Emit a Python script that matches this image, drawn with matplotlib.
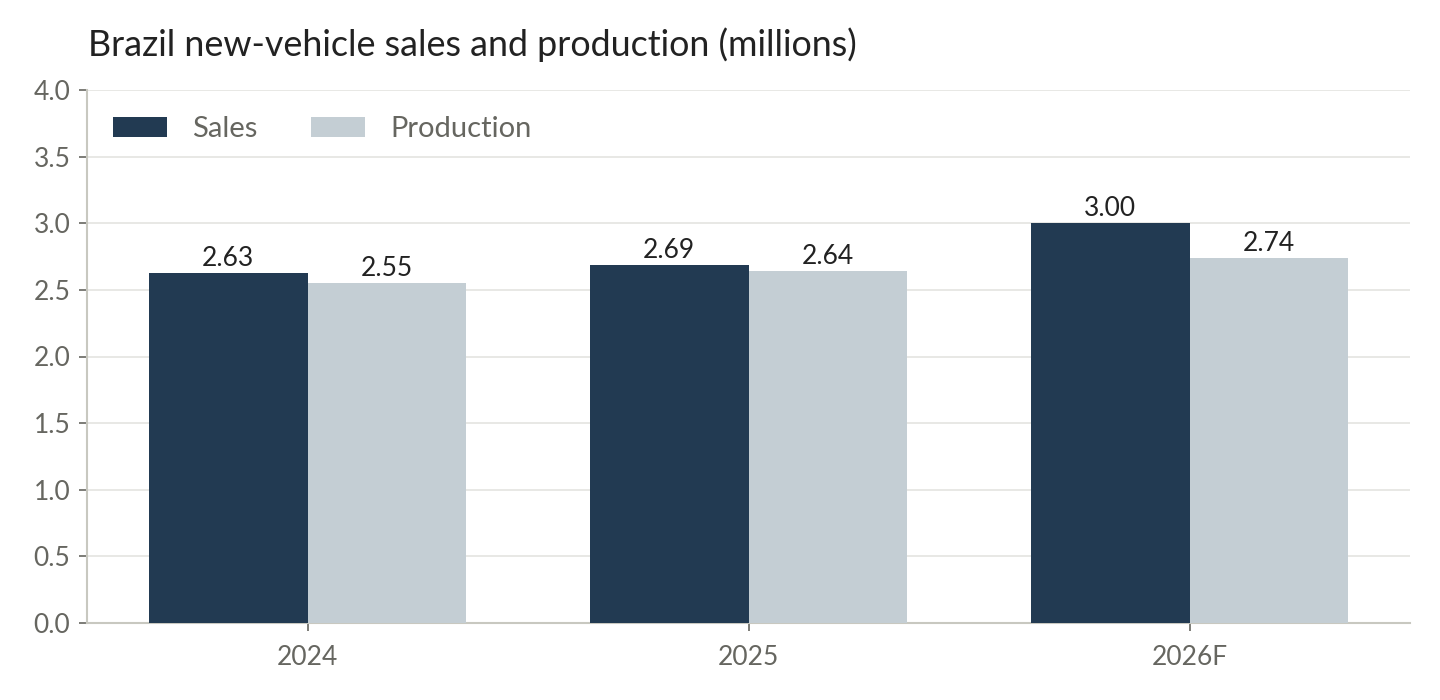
import matplotlib
matplotlib.use("Agg")
import matplotlib.pyplot as plt
import numpy as np

categories = ["2024", "2025", "2026F"]
sales = [2.63, 2.69, 3.00]
production = [2.55, 2.64, 2.74]
yticks = [0.0, 0.5, 1.0, 1.5, 2.0, 2.5, 3.0, 3.5, 4.0]

plt.rcParams['font.family'] = ['Lato', 'DejaVu Sans']

fig = plt.figure(figsize=(14.4, 7), dpi=100)
ax = fig.add_axes([87/1440, 1 - 623/700, (1410-87)/1440, (623-90)/700])

x = np.arange(len(categories))
w = 0.36
c_sales = "#223A52"
c_prod = "#C4CED4"
b1 = ax.bar(x - w/2, sales, w, color=c_sales, label="Sales", zorder=3)
b2 = ax.bar(x + w/2, production, w, color=c_prod, label="Production", zorder=3)

for bars, vals in ((b1, sales), (b2, production)):
    for r, v in zip(bars, vals):
        ax.text(r.get_x() + r.get_width()/2, v + 0.015, f"{v:.2f}", ha="center", va="bottom",
                fontsize=19, color="#222222", zorder=4)

ax.set_xlim(-0.5, 2.5)
ax.set_ylim(0, 4.0)
ax.set_yticks(yticks)
ax.set_yticklabels([f"{t:.1f}" for t in yticks])
ax.set_xticks(x)
ax.set_xticklabels(categories)
ax.yaxis.grid(True, color="#E4E4E0", linewidth=1.2, zorder=0)
ax.set_axisbelow(True)
for s in ("top", "right"):
    ax.spines[s].set_visible(False)
for s in ("left", "bottom"):
    ax.spines[s].set_color("#C8C8C0")
    ax.spines[s].set_linewidth(1.5)
ax.tick_params(axis="both", colors="#666660", labelsize=19, length=6, width=1.2)
ax.tick_params(axis="x", pad=10)
ax.tick_params(axis="y", pad=6)

leg = ax.legend(loc="upper left", ncol=2, frameon=False, fontsize=21,
                handlelength=1.85, handleheight=0.65, columnspacing=1.85, handletextpad=0.85,
                bbox_to_anchor=(0.0, 1.0))
for t in leg.get_texts():
    t.set_color("#666660")

fig.text(88/1440, 1 - 45/700, "Brazil new-vehicle sales and production (millions)",
         fontsize=25.8, color="#222222", ha="left", va="center")

fig.savefig("out.png", dpi=100)
